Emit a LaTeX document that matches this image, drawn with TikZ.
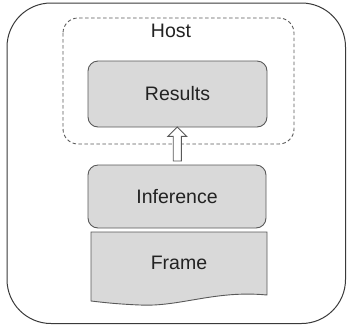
\documentclass[tikz,border=0pt]{standalone}
\usepackage{fontspec}
\setmainfont{Liberation Sans}
\usetikzlibrary{shapes.arrows,calc}
\definecolor{boxfill}{HTML}{D9D9D9}
\definecolor{boxline}{HTML}{595959}
\definecolor{outerline}{HTML}{3A3A3A}
\definecolor{txt}{HTML}{222222}
\tikzset{
  every node/.style={font=\fontsize{19.5}{23}\selectfont, text=txt},
  block/.style={draw=boxline, fill=boxfill, rounded corners=10pt, line width=0.9pt, inner sep=0pt},
  flowarrow/.style={shape=single arrow, draw=boxline, fill=white, line width=0.9pt,
    inner sep=3.6pt, single arrow head extend=5.4pt, shape border rotate=90, minimum height=34pt},
}
\begin{document}
\begin{tikzpicture}[x=1pt, y=-1pt]
  \useasboundingbox (0,0) rectangle (347,330);
  % outer container
  \draw[outerline, line width=1pt, rounded corners=44pt] (7,3) rectangle (345.5,323.5);
  % host area
  \draw[boxline, line width=0.9pt, dashed, dash pattern=on 3.5pt off 2.5pt, rounded corners=15pt] (63,18) rectangle (294,144);
  \node (host) at (171,31) {Host};
  % results and inference blocks
  \node[block, minimum width=179pt, minimum height=66pt] (res) at (177.5,94) {Results};
  \node[block, minimum width=178pt, minimum height=63pt] (inf) at (177,196.5) {Inference};
  % frame (document shape with wavy bottom)
  \draw[boxline, fill=boxfill, line width=0.9pt]
    (91,232) -- (267,232) -- (267,295)
    .. controls (215,290) and (180,307) .. (140,305)
    .. controls (115,304) and (100,302) .. (91,301) -- cycle;
  \node (frame) at (179,263) {Frame};
  % data flow from inference up to results
  \node[flowarrow] (up) at ($(res.south)!0.5!(inf.north)$) {};
\end{tikzpicture}
\end{document}
